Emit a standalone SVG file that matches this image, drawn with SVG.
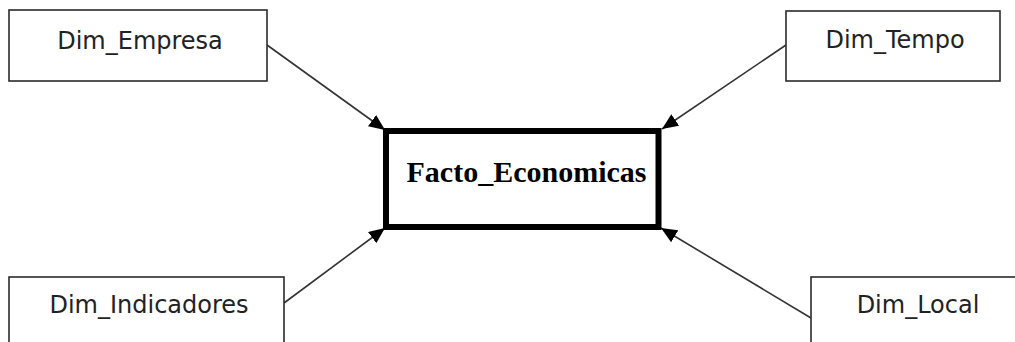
<svg xmlns="http://www.w3.org/2000/svg" width="1015" height="342" viewBox="0 0 1015 342">
<style>
.dim{fill:#fff;stroke:#2b2b2b;stroke-width:1.6}
.dl{font-family:"DejaVu Sans",sans-serif;font-size:24px;fill:#222;text-anchor:middle}
.fact{fill:#fff;stroke:#000;stroke-width:6}
.fl{font-family:"Liberation Serif",serif;font-size:30px;font-weight:bold;fill:#000;text-anchor:middle}
.conn{stroke:#333;stroke-width:1.6;fill:none;marker-end:url(#ah)}
</style>
<defs>
<marker id="ah" markerUnits="userSpaceOnUse" markerWidth="18" markerHeight="14" refX="16" refY="7" orient="auto">
<path d="M0,0 L16,7 L0,14 Z" fill="#000"/>
</marker>
</defs>
<rect width="1015" height="342" fill="#fff"/>
<g id="connectors">
<line class="conn" x1="267" y1="45" x2="385" y2="130"/>
<line class="conn" x1="786" y1="45" x2="662" y2="129"/>
<line class="conn" x1="284" y1="303" x2="385" y2="228"/>
<line class="conn" x1="811" y1="318" x2="661" y2="228"/>
</g>
<g id="Dim_Empresa">
<rect class="dim" x="9" y="10" width="258" height="71"/>
<text class="dl" x="140" y="49">Dim_Empresa</text>
</g>
<g id="Dim_Tempo">
<rect class="dim" x="786" y="11" width="214" height="70"/>
<text class="dl" x="895" y="48">Dim_Tempo</text>
</g>
<g id="Dim_Indicadores">
<rect class="dim" x="9" y="277" width="275" height="80"/>
<text class="dl" x="149" y="313">Dim_Indicadores</text>
</g>
<g id="Dim_Local">
<rect class="dim" x="811" y="277" width="220" height="80"/>
<text class="dl" x="918" y="313">Dim_Local</text>
</g>
<g id="Facto_Economicas">
<rect class="fact" x="386" y="131" width="272.5" height="96"/>
<text class="fl" x="526.5" y="182">Facto_Economicas</text>
</g>
</svg>
